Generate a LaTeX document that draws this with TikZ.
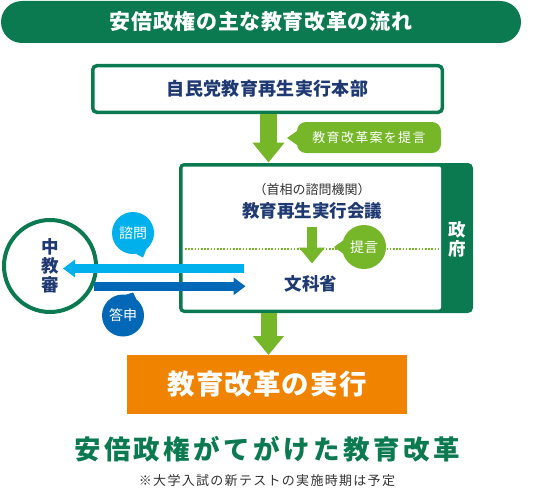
\documentclass[tikz,border=0pt]{standalone}
\usepackage{fontspec}
\setmainfont{Noto Sans CJK JP}
\usetikzlibrary{arrows.meta,calc}
\definecolor{dgreen}{HTML}{0B7A50}
\definecolor{navy}{HTML}{1F3A72}
\definecolor{lgreen}{HTML}{76B72A}
\definecolor{lblue}{HTML}{00B0EC}
\definecolor{dblue}{HTML}{0068B6}
\definecolor{orng}{HTML}{F08300}
\definecolor{gtext}{HTML}{333333}
\newcommand\fsz[2]{\fontsize{#1pt}{#2pt}\selectfont}
\begin{document}
\begin{tikzpicture}[x=1pt,y=-1pt,
  lbl/.style={inner sep=0pt, outer sep=0pt},
  navytxt/.style={lbl, text=navy, font=\fsz{17.5}{19}\bfseries},
  bubble/.style={circle, inner sep=0pt, outer sep=0pt, minimum size=#1, text=white, font=\fsz{13}{15}}
]
\useasboundingbox (0,0) rectangle (534,492);

% title bar
\node[lbl, fill=dgreen, rounded corners=21pt, minimum width=520pt, minimum height=42pt,
  text=white, font=\fsz{21}{24}\bfseries\addfontfeatures{LetterSpace=3}] (title) at (261,22) {安倍政権の主な教育改革の流れ};

% top box
\node[draw=dgreen, line width=3.5pt, rounded corners=4pt, minimum width=349.5pt, minimum height=46.5pt,
  inner sep=0pt, text=navy, font=\fsz{18}{20}\bfseries\addfontfeatures{LetterSpace=2}] (top) at (267.5,89) {自民党教育再生実行本部};

% government box
\node[lbl, fill=dgreen, rounded corners=5pt, minimum width=294pt, minimum height=150pt] (gov) at (326,238) {};
\fill[white, rounded corners=2pt] (182.5,166.5) rectangle (441,309.5);
\node[lbl, text=white, font=\fsz{17.5}{19}\bfseries, align=center] (seifu) at (457,239) {政\\府};

% callout
\node[lbl, fill=lgreen, rounded corners=9pt, minimum width=144pt, minimum height=31pt,
  text=white, font=\fsz{13}{15}\addfontfeatures{LetterSpace=10}] (proposal) at (369,137.5) {教育改革案を提言};
\coordinate (ptip) at (287,138);
\fill[lgreen] (proposal.west |- 0,131) -- (ptip) -- (proposal.west |- 0,145) -- cycle;

% arrow 1
\draw[lgreen, line width=17pt, -{Triangle[length=20pt,width=31pt]}] (268.5,114) coordinate (a1s) -- (268.5,162.5) coordinate (a1e);

% inside gov
\node[lbl, text=gtext, font=\fsz{13}{15}] (shimonkikan) at (312,190) {（首相の諮問機関）};
\node[navytxt] (kaigi) at (312,210.5) {教育再生実行会議};
\draw[lgreen, line width=1.6pt, dash pattern=on 1.6pt off 1.6pt] (185,249) coordinate (d1) -- (438,249) coordinate (d2);
\coordinate (s1) at (312,227);
\coordinate (s2) at (312,263.5);
\draw[lgreen, line width=10pt, -{Triangle[length=16pt,width=25pt]}] (s1) -- (s2);
\node[bubble=44pt, fill=lgreen, font=\fsz{14}{15}] (teigen) at (364,247) {提言};
\fill[lgreen] (teigen.163) -- (334,247) -- (teigen.197) -- cycle;
\node[navytxt] (monka) at (311,283.5) {文科省};

% chukyoshin
\node[circle, draw=dgreen, line width=4pt, minimum size=92pt, inner sep=0pt,
  text=navy, font=\fsz{17.5}{19}\bfseries, align=center] (chu) at (50,266) {中\\教\\審};

% blue arrows
\coordinate (lb1) at (244,268.5);
\coordinate (lb2) at (63,268.5);
\draw[lblue, line width=9pt, -{Triangle[length=12pt,width=17pt]}] (lb1) -- (lb2);
\coordinate (db2) at (245.5,285.5);
\draw[dblue, line width=8.5pt, -{Triangle[length=12pt,width=17pt]}] (chu.-25) -- (chu.-25 -| db2);

% bubbles
\node[bubble=42pt, fill=lblue, font=\fsz{14}{15}] (shimon) at (133,233) {諮問};
\fill[lblue] (shimon.-50) -- (143,257.5) -- (shimon.-82) -- cycle;
\node[bubble=42pt, fill=dblue, font=\fsz{14}{15}] (toshin) at (123,315.5) {答申};
\fill[dblue] (toshin.50) -- (133,292.5) -- (toshin.82) -- cycle;

% orange box
\node[lbl, fill=orng, minimum width=280pt, minimum height=59pt, text=white,
  font=\fsz{27.5}{30}\bfseries\addfontfeatures{LetterSpace=4}] (exec) at (267,384.5) {教育改革の実行};

% arrow 2
\draw[lgreen, line width=16pt, -{Triangle[length=19pt,width=30pt]}] (a1s |- gov.south) -- (a1s |- exec.north);

% bottom texts
\node[lbl, text=dgreen, font=\fsz{26.5}{30}\bfseries\addfontfeatures{LetterSpace=13}] (headline) at (267,449) {安倍政権がてがけた教育改革};
\node[lbl, text=gtext, font=\fsz{13}{15}\addfontfeatures{LetterSpace=10}] (note) at (267,481) {※大学入試の新テストの実施時期は予定};
\end{tikzpicture}
\end{document}
